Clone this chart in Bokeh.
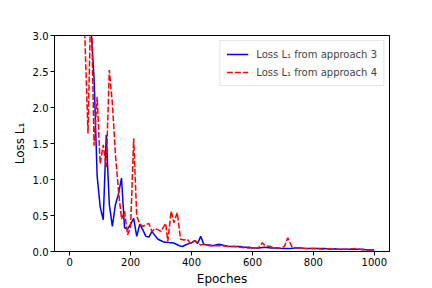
from bokeh.plotting import figure
from bokeh.models import Range1d, FixedTicker, Legend, LegendItem
from bokeh.embed import file_html
from bokeh.resources import INLINE

# Loss L1 from approach 3 (blue)
ep3 = [60, 70, 80, 90, 100, 110, 120, 130, 140, 150, 160, 170, 180, 190, 200,
       210, 220, 230, 240, 250, 260, 270, 280, 290, 300, 310, 320, 330, 340, 350,
       360, 370, 380, 390, 400, 410, 420, 430, 440, 450, 460, 470, 480, 490, 500,
       510, 520, 530, 540, 550, 560, 570, 580, 590, 600, 620, 640, 660, 680, 700,
       720, 740, 760, 780, 800, 820, 840, 860, 870, 880, 900, 920, 940, 960, 980, 1000]
loss3 = [4.0, 3.1, 2.4, 1.05, 0.62, 0.44, 1.62, 0.65, 0.35, 0.65, 0.80, 1.02, 0.33, 0.31, 0.38,
         0.46, 0.21, 0.38, 0.30, 0.21, 0.20, 0.28, 0.22, 0.17, 0.15, 0.13, 0.13, 0.12, 0.12, 0.10,
         0.08, 0.07, 0.09, 0.11, 0.12, 0.15, 0.11, 0.21, 0.10, 0.09, 0.09, 0.08, 0.09, 0.10, 0.09,
         0.08, 0.07, 0.07, 0.07, 0.07, 0.07, 0.06, 0.06, 0.06, 0.05, 0.05, 0.06, 0.05, 0.05, 0.04,
         0.04, 0.05, 0.05, 0.04, 0.04, 0.04, 0.04, 0.03, 0.04, 0.03, 0.03, 0.03, 0.03, 0.03, 0.02, 0.02]

# Loss L1 from approach 4 (red dashed)
ep4 = [45, 60, 70, 80, 90, 100, 110, 120, 130, 140, 150, 160, 170, 180, 190,
       200, 210, 220, 230, 240, 250, 260, 270, 280, 290, 300, 315, 322, 333, 342,
       353, 364, 375, 386, 397, 405, 413, 429, 440, 460, 480, 500, 520, 540, 560,
       580, 600, 620, 632, 642, 659, 670, 690, 705, 716, 730, 750, 770, 790, 810,
       830, 850, 870, 890, 910, 930, 950, 970, 990, 1000]
loss4 = [3.6, 1.64, 3.6, 1.47, 2.15, 1.22, 1.48, 1.17, 2.52, 2.06, 1.35, 0.85, 0.45, 0.56, 0.23,
         0.35, 1.57, 0.49, 0.38, 0.35, 0.37, 0.39, 0.28, 0.32, 0.30, 0.28, 0.39, 0.14, 0.56, 0.40,
         0.54, 0.17, 0.16, 0.17, 0.11, 0.14, 0.15, 0.09, 0.10, 0.08, 0.08, 0.08, 0.07, 0.07, 0.06,
         0.05, 0.05, 0.05, 0.12, 0.08, 0.07, 0.05, 0.05, 0.07, 0.19, 0.06, 0.05, 0.04, 0.04, 0.04,
         0.03, 0.04, 0.03, 0.03, 0.03, 0.04, 0.03, 0.02, 0.02, 0.02]

x_ticks = [0, 200, 400, 600, 800, 1000]
y_ticks = [0.0, 0.5, 1.0, 1.5, 2.0, 2.5, 3.0]

FONT = "DejaVu Sans"

p = figure(width=432, height=288, output_backend="svg", toolbar_location=None,
           x_range=Range1d(-50, 1050), y_range=Range1d(0, 3.0),
           min_border_left=54, min_border_right=43, min_border_top=35, min_border_bottom=36)

l3 = p.line(ep3, loss3, line_color="blue", line_width=1.5)
l4 = p.line(ep4, loss4, line_color="red", line_width=1.5, line_dash="6 2")

p.xgrid.visible = False
p.ygrid.visible = False
p.outline_line_color = "black"
p.outline_line_width = 1
p.background_fill_color = "white"
p.border_fill_color = "white"

for ax in (p.xaxis[0], p.yaxis[0]):
    ax.major_label_text_font = FONT
    ax.major_label_text_font_size = "10px"
    ax.major_label_text_color = "black"
    ax.axis_label_text_font = FONT
    ax.axis_label_text_font_size = "12px"
    ax.axis_label_text_font_style = "normal"
    ax.axis_label_text_color = "black"
    ax.minor_tick_line_color = None
    ax.major_tick_in = 0
    ax.major_tick_out = 4
    ax.major_label_standoff = 2
    ax.axis_label_standoff = 3
    ax.axis_line_color = "black"
    ax.major_tick_line_color = "black"

p.xaxis[0].ticker = FixedTicker(ticks=x_ticks)
p.yaxis[0].ticker = FixedTicker(ticks=y_ticks)
p.yaxis[0].major_label_overrides = {t: f"{t:.1f}" for t in y_ticks}
p.xaxis[0].axis_label = "Epoches"
p.yaxis[0].axis_label = "Loss L₁"

legend = Legend(items=[LegendItem(label="Loss L₁ from approach 3", renderers=[l3]),
                       LegendItem(label="Loss L₁ from approach 4", renderers=[l4])],
                location="top_right")
legend.label_text_font = FONT
legend.label_text_font_size = "10px"
legend.border_line_color = "#cccccc"
legend.border_line_width = 1
legend.margin = 5
legend.padding = 6
legend.spacing = 4
legend.glyph_width = 22
legend.glyph_height = 14
legend.label_standoff = 8
legend.label_height = 14
p.add_layout(legend)

open("out.html", "w").write(file_html(p, INLINE))
